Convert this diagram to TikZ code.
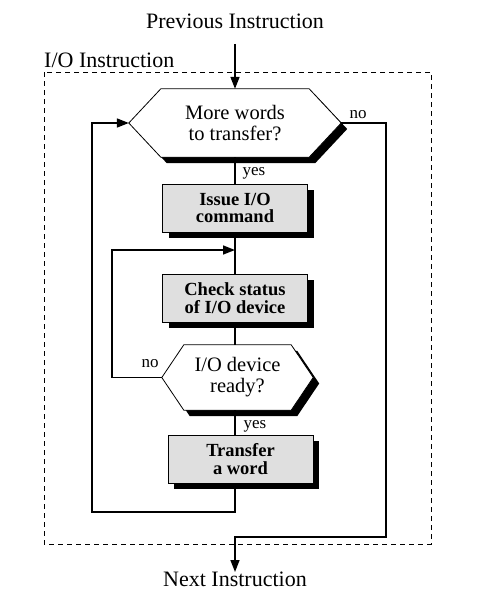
\documentclass[tikz,border=0pt]{standalone}
\usepackage{fontspec}
\setmainfont{Liberation Serif}
\usetikzlibrary{arrows.meta,shadows,calc}
\newcommand\hexoutline[2]{(#1.west) -- ([xshift=#2]#1.north west) -- ([xshift=-#2]#1.north east) -- (#1.east) -- ([xshift=-#2]#1.south east) -- ([xshift=#2]#1.south west) -- cycle}
\begin{document}
\begin{tikzpicture}[x=1pt,y=-1pt,
  conn/.style={line width=1.6pt},
  arr/.style={conn, -{Triangle[length=12pt,width=9pt]}},
  txt/.style={font=\fontsize{20.5}{21}\selectfont, align=center, inner sep=0pt},
  boxtxt/.style={font=\bfseries\fontsize{18.5}{17.5}\selectfont, align=center, inner sep=0pt},
  ttl/.style={font=\fontsize{22}{22}\selectfont, inner sep=0pt},
  lbl/.style={font=\fontsize{17}{17}\selectfont, inner sep=0pt},
  procbox/.style={draw, line width=0.8pt, fill=gray!25, minimum width=145pt,
    minimum height=48pt, boxtxt,
    drop shadow={shadow xshift=6pt, shadow yshift=-6pt, fill=black, opacity=1}},
  hexarea/.style 2 args={inner sep=0pt, minimum width=#1, minimum height=#2},
  hexshadow/.style={fill=black, transform canvas={xshift=6pt, yshift=-6pt}},
  hexbody/.style={fill=white, draw=black, line width=0.8pt, line join=miter},
  frame/.style={draw, line width=0.7pt, dash pattern=on 5pt off 4pt}
]
\useasboundingbox (0,0) rectangle (480,602);
\fill[white] (0,0) rectangle (480,602);

% titles
\node[ttl, anchor=base] (pi) at (235,29) {Previous Instruction};
\node[ttl, anchor=base west] (ioi) at (44,67) {I/O Instruction};
\node[ttl, anchor=north] (ni) at (235,572) {Next Instruction};

% frame
\draw[frame] (44,72) rectangle (431,544);

% hexagon 1
\node[hexarea={212pt}{68pt}] (h1) at (235,123) {};
\fill[hexshadow] \hexoutline{h1}{32pt};
\draw[hexbody] \hexoutline{h1}{32pt};
\node[txt] (h1t) at (h1.center) {More words\\to transfer?};

% boxes
\node[procbox] (b1) at (235,208) {Issue I/O\\command};
\node[procbox] (b2) at (235,298) {Check status\\of I/O device};

% hexagon 2
\node[hexarea={151pt}{65pt}] (h2) at (237.5,377.5) {};
\fill[hexshadow] \hexoutline{h2}{22pt};
\draw[hexbody] \hexoutline{h2}{22pt};
\node[txt] (h2t) at (h2.center) {I/O device\\ready?};

\node[procbox] (b3) at (240.5,459) {Transfer\\a word};

% labels
\node[lbl, anchor=base] (no1) at (358,118) {no};
\node[lbl, anchor=base] (yes1) at (254,175) {yes};
\node[lbl, anchor=base] (no2) at (150,367) {no};
\node[lbl, anchor=base] (yes2) at (255,428) {yes};

% coordinates
\coordinate (pstart) at (235,44);
\coordinate (lb) at (92,512);
\coordinate (li) at (112,250);
\coordinate (rb) at (386,537);

% connectors
\draw[arr] (pstart) -- (h1.north);
\draw[conn] (h1.south) -- (b1.north);
\draw[conn] (b1.south) -- (b2.north);
\draw[conn] (b2.south) -- (b2.south |- h2.north);
\draw[conn] (b2.south |- h2.south) -- (b2.south |- b3.north);
\draw[arr] (b2.south |- b3.south) |- (lb) |- (h1.west);
\draw[arr] (h2.west) -| (li) -- (li -| b2.south);
\draw[arr] (h1.east) -| (rb) -| (ni.north);
\end{tikzpicture}
\end{document}
